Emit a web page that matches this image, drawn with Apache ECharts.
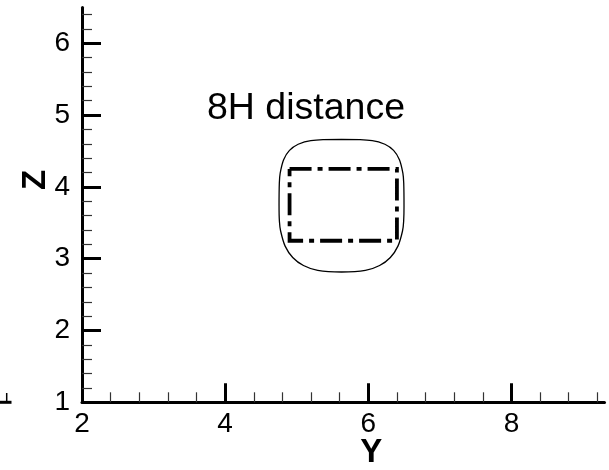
<!DOCTYPE html>
<html>
<head>
<meta charset="utf-8">
<script src="https://cdn.jsdelivr.net/npm/echarts@6/dist/echarts.min.js"></script>
<style>
  html, body { margin: 0; padding: 0; background: #fff; }
  #chart { width: 609px; height: 470px; }
</style>
</head>
<body>
<div id="chart"></div>
<script>
// Axis ranges and tick values
const yRange = [2, 9.3];
const zRange = [1, 6.5];
const yMajorTicks = [2, 4, 6, 8];
const zMajorTicks = [1, 2, 3, 4, 5, 6];
const yMinorStep = 0.4;
const zMinorStep = 0.2;

// Outer contour (Y, Z), traced clockwise from the top
const contourY = [5.626, 6.055, 6.232, 6.353, 6.435, 6.483, 6.495, 6.499, 6.494, 6.478, 6.414, 6.308, 6.158, 5.959, 5.626,
                  5.294, 5.094, 4.944, 4.838, 4.775, 4.758, 4.753, 4.757, 4.769, 4.817, 4.899, 5.020, 5.197, 5.626];
const contourZ = [4.661, 4.645, 4.594, 4.508, 4.379, 4.192, 4.054, 3.738, 3.522, 3.386, 3.175, 3.017, 2.905, 2.837, 2.815,
                  2.837, 2.905, 3.017, 3.175, 3.386, 3.522, 3.738, 4.054, 4.192, 4.379, 4.508, 4.594, 4.645, 4.661];

// Inner box corners (Y, Z)
const boxY = [4.9, 6.4, 6.4, 4.9, 4.9];
const boxZ = [4.25, 4.25, 3.25, 3.25, 4.25];

const labelText = '8H distance';

function minorTicks(range, step, majors) {
  const out = [];
  const n = Math.floor((range[1] - range[0]) / step + 1e-6);
  for (let i = 1; i <= n; i++) {
    const v = Math.round((range[0] + i * step) * 1000) / 1000;
    if (!majors.some(m => Math.abs(m - v) < 1e-6)) out.push(v);
  }
  return out;
}

const zip = (a, b) => a.map((v, i) => [v, b[i]]);
const font = '"Liberation Sans", Arial, Helvetica, sans-serif';

const chart = echarts.init(document.getElementById('chart'), null, { renderer: 'canvas' });

const majorAxisCommon = {
  type: 'value',
  splitLine: { show: false },
  nameMoveOverlap: false,
  axisLine: { show: true, onZero: false, lineStyle: { color: '#000', width: 3 } },
  axisTick: { show: true, inside: true, length: 19, lineStyle: { color: '#000', width: 3 } },
  nameTextStyle: { fontFamily: font, fontWeight: 'bold', fontSize: 33, color: '#000' }
};
const minorAxisCommon = {
  type: 'value',
  splitLine: { show: false },
  axisLine: { show: false, onZero: false },
  axisLabel: { show: false },
  axisTick: { show: true, inside: true, length: 10, lineStyle: { color: '#333', width: 1.2 } }
};

chart.setOption({
  animation: false,
  backgroundColor: '#fff',
  title: {
    text: labelText,
    left: 202,
    top: 85,
    textStyle: { fontFamily: font, fontWeight: 'normal', fontSize: 37.5, color: '#000' }
  },
  grid: { left: 82, right: 4.5, top: 7.4, bottom: 67.7, containLabel: false, outerBoundsMode: 'none' },
  xAxis: [
    Object.assign({}, majorAxisCommon, {
      min: yRange[0], max: yRange[1], interval: 2, position: 'bottom',
      name: 'Y', nameLocation: 'middle', nameGap: 34,
      nameTextStyle: Object.assign({}, majorAxisCommon.nameTextStyle, { padding: [0, 0, 0, 56] }),
      axisTick: Object.assign({}, majorAxisCommon.axisTick, { customValues: yMajorTicks.slice(1) }),
      axisLabel: { customValues: yMajorTicks, margin: 8, fontFamily: font, fontSize: 28, color: '#000' }
    }),
    Object.assign({}, minorAxisCommon, {
      min: yRange[0], max: yRange[1], position: 'bottom',
      axisTick: Object.assign({}, minorAxisCommon.axisTick, { customValues: minorTicks(yRange, yMinorStep, yMajorTicks) })
    })
  ],
  yAxis: [
    Object.assign({}, majorAxisCommon, {
      min: zRange[0], max: zRange[1], interval: 1, position: 'left',
      name: 'Z', nameLocation: 'middle', nameGap: 30, nameRotate: 90,
      nameTextStyle: Object.assign({}, majorAxisCommon.nameTextStyle, { padding: [0, 0, 0, 50] }),
      axisTick: Object.assign({}, majorAxisCommon.axisTick, { customValues: zMajorTicks.slice(1) }),
      axisLabel: { customValues: zMajorTicks, margin: 12, fontFamily: font, fontSize: 28, color: '#000' }
    }),
    Object.assign({}, minorAxisCommon, {
      min: zRange[0], max: zRange[1], position: 'left',
      axisTick: Object.assign({}, minorAxisCommon.axisTick, { customValues: minorTicks(zRange, zMinorStep, zMajorTicks) })
    })
  ],
  series: [
    {
      type: 'line',
      xAxisIndex: 0, yAxisIndex: 0,
      data: zip(contourY, contourZ),
      smooth: 0.3,
      symbol: 'none',
      lineStyle: { color: '#000', width: 1.3 }
    },
    {
      type: 'line',
      xAxisIndex: 0, yAxisIndex: 0,
      data: zip(boxY, boxZ),
      symbol: 'none',
      lineStyle: { color: '#000', width: 3.8, type: [22, 6, 5, 6], cap: 'butt', join: 'miter' }
    }
  ],
  graphic: [
    { type: 'line', shape: { x1: 0, y1: 402.3, x2: 11.5, y2: 402.3 }, style: { stroke: '#000', lineWidth: 3 } },
    { type: 'line', shape: { x1: 6.7, y1: 393, x2: 6.7, y2: 402 }, style: { stroke: '#000', lineWidth: 1.5 } }
  ]
});
</script>
</body>
</html>
